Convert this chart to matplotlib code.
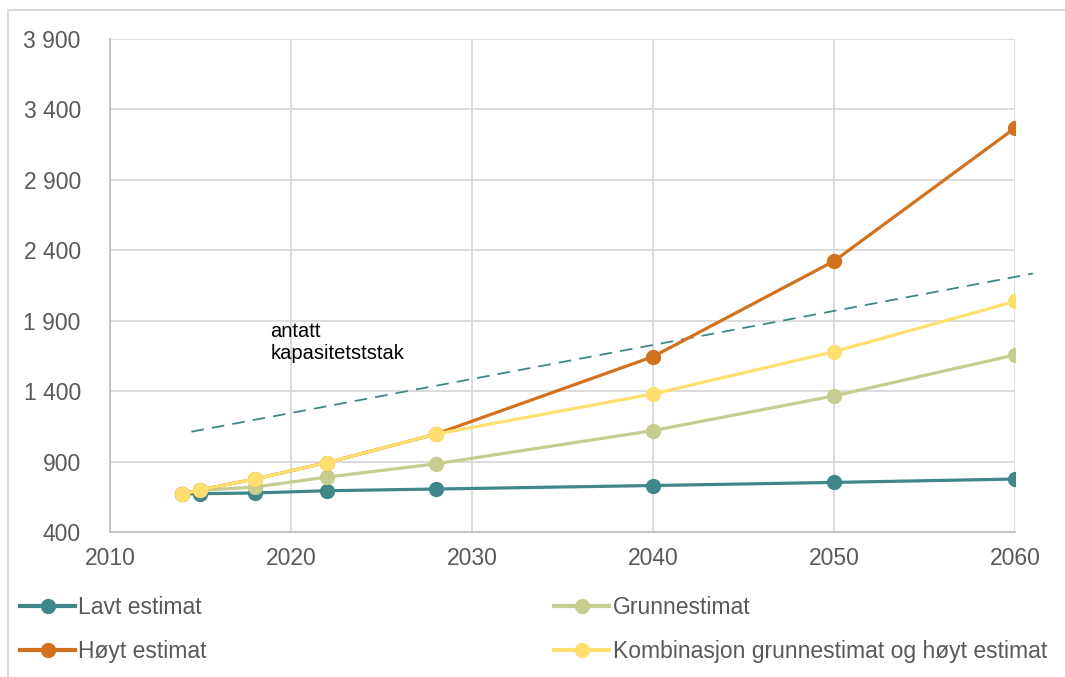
import matplotlib
matplotlib.use("Agg")
import matplotlib.pyplot as plt
from matplotlib.patches import Rectangle
from matplotlib.lines import Line2D

# Årstall og estimater
years = [2014, 2015, 2018, 2022, 2028, 2040, 2050, 2060]
lavt = [671, 672, 677, 693, 705, 730, 752, 776]
grunn = [671, 695, 719, 790, 884, 1120, 1366, 1657]
hoyt = [671, 700, 776, 893, 1095, 1645, 2323, 3268]
kombinasjon = [671, 700, 776, 893, 1095, 1380, 1680, 2037]

# Antatt kapasitetstak (stiplet linje)
tak_years = [2014.5, 2061]
tak_values = [1112, 2235]

y_ticks = [400, 900, 1400, 1900, 2400, 2900, 3400, 3900]
x_ticks = [2010, 2020, 2030, 2040, 2050, 2060]

labels = ["Lavt estimat", "Grunnestimat", "Høyt estimat",
          "Kombinasjon grunnestimat og høyt estimat"]
colors = ["#3f8789", "#c6cd8e", "#d2711e", "#ffdf6e"]

plt.rcParams["font.family"] = ["Liberation Sans", "DejaVu Sans"]

W, H = 1065, 677
fig = plt.figure(figsize=(W / 100, H / 100), dpi=100)
ax = fig.add_axes([110 / W, 1 - 532 / H, (1015 - 110) / W, (532 - 39) / H])

series = [lavt, grunn, hoyt, kombinasjon]
for vals, col in zip(series, colors):
    ax.plot(years, vals, color=col, linewidth=2.3, marker="o",
            markersize=11, markeredgewidth=0, solid_capstyle="round", zorder=3)

ax.plot(tak_years, tak_values, color="#3f8789", linewidth=1.3,
        dashes=(7, 4.5), clip_on=False, zorder=2)
ax.text(2018.85, 1745, "antatt\nkapasitetststak", fontsize=14.5,
        color="black", ha="left", va="center", linespacing=1.15)

ax.set_xlim(2010, 2060)
ax.set_ylim(400, 3900)
ax.set_xticks(x_ticks)
ax.set_yticks(y_ticks)
ax.set_yticklabels([f"{v:,}".replace(",", " ") for v in y_ticks])
ax.grid(True, color="#d9d9d9", linewidth=1.3)
ax.set_axisbelow(True)
for s in ["top", "right"]:
    ax.spines[s].set_visible(False)
for s in ["left", "bottom"]:
    ax.spines[s].set_color("#bfbfbf")
    ax.spines[s].set_linewidth(1.3)
ax.tick_params(axis="both", length=0, labelsize=16.5, labelcolor="#595959")
ax.tick_params(axis="y", pad=21)
ax.tick_params(axis="x", pad=11)

# Forklaring i to kolonner under diagrammet (fylles kolonnevis)
order = [0, 2, 1, 3]
handles = [Line2D([], [], color=colors[i], linewidth=3, marker="o",
                  markersize=11, markeredgewidth=0) for i in order]
fig.legend(handles, [labels[i] for i in order], loc="upper left",
           bbox_to_anchor=(20 / W, 1 - 596 / H),
           ncol=2, frameon=False, fontsize=16.5, labelcolor="#595959",
           handlelength=2.4, handletextpad=0.15, columnspacing=15.15,
           labelspacing=0.9, borderaxespad=0, borderpad=0)

fig.patches.append(Rectangle((8 / W, -0.05), 1.1, 1 - 10 / H + 0.05,
                             transform=fig.transFigure, fill=False,
                             edgecolor="#d9d9d9", linewidth=1.5))

fig.savefig("out.png", dpi=100)
